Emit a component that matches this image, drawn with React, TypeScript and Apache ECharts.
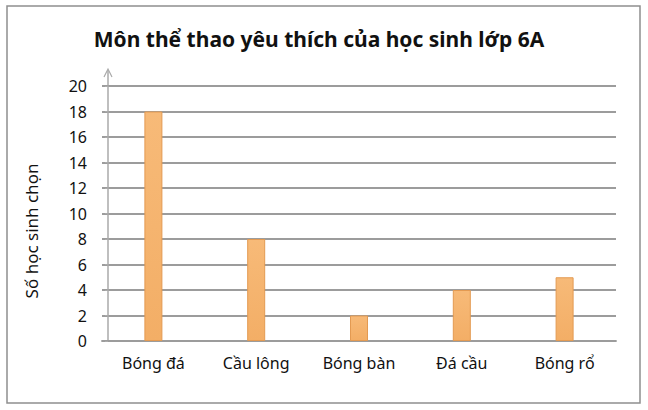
import * as echarts from 'echarts'
import { useEffect, useRef } from 'react'

const categories = ['Bóng đá', 'Cầu lông', 'Bóng bàn', 'Đá cầu', 'Bóng rổ']
const counts = [18, 8, 2, 4, 5]
const yMin = 0
const yMax = 20
const yStep = 2

const title = 'Môn thể thao yêu thích của học sinh lớp 6A'
const yName = 'Số học sinh chọn'

const GRID_LEFT = 102
const GRID_RIGHT = 32
const GRID_TOP = 86
const GRID_BOTTOM = 69
const AXIS_X = 108

export default function App() {
  const chartRef = useRef<HTMLDivElement>(null)

  useEffect(() => {
    if (!chartRef.current) return
    const chart = echarts.init(chartRef.current, undefined, { renderer: 'svg' })

    const option = {
      animation: false,
      backgroundColor: '#fff',
      textStyle: { fontFamily: 'Noto Sans' },
      title: {
        text: title,
        left: 314,
        top: 23,
        textAlign: 'center',
        textStyle: { fontSize: 21, fontWeight: 'bold', color: '#111', fontFamily: 'Noto Sans' }
      },
      grid: { left: GRID_LEFT, right: GRID_RIGHT, top: GRID_TOP, bottom: GRID_BOTTOM },
      xAxis: {
        type: 'category',
        data: categories,
        axisLine: { show: true, lineStyle: { color: '#9c9c9c', width: 1.8 } },
        axisTick: { show: false },
        axisLabel: { fontSize: 16, color: '#111', margin: 14 }
      },
      yAxis: {
        type: 'value',
        min: yMin,
        max: yMax,
        interval: yStep,
        offset: GRID_LEFT - AXIS_X,
        axisLine: { show: true, lineStyle: { color: '#aaaaaa', width: 1.5 } },
        axisTick: { show: true, length: 3, lineStyle: { color: '#aaaaaa' } },
        axisLabel: { fontSize: 16, color: '#111', margin: 21 },
        splitLine: { lineStyle: { color: '#9c9c9c', width: 1.8 } }
      },
      series: [
        {
          type: 'bar',
          data: counts,
          barWidth: 18,
          itemStyle: {
            color: new echarts.graphic.LinearGradient(0, 0, 0, 1, [
              { offset: 0, color: '#F7BA78' },
              { offset: 1, color: '#F3AE66' }
            ]),
            borderColor: '#E39A52',
            borderWidth: 1
          }
        }
      ],
      graphic: [
        {
          type: 'rect',
          shape: { x: 7, y: 6, width: 633, height: 397 },
          style: { fill: 'none', stroke: '#8f8f8f', lineWidth: 1.5 },
          silent: true
        },
        {
          type: 'text',
          x: 31,
          y: 231,
          rotation: Math.PI / 2,
          style: {
            text: yName,
            fontSize: 17,
            fontFamily: 'Noto Sans',
            fill: '#111',
            align: 'center',
            verticalAlign: 'middle'
          }
        },
        {
          type: 'line',
          shape: { x1: AXIS_X, y1: GRID_TOP, x2: AXIS_X, y2: 70 },
          style: { stroke: '#aaaaaa', lineWidth: 1.5 }
        },
        {
          type: 'polyline',
          shape: { points: [[AXIS_X - 4, 77], [AXIS_X, 69], [AXIS_X + 4, 77]] },
          style: { stroke: '#aaaaaa', lineWidth: 1.2, fill: 'none' }
        }
      ]
    }

    chart.setOption(option)
    return () => chart.dispose()
  }, [])

  return (
    <div
      ref={chartRef}
      style={{ position: 'fixed', left: 0, top: 0, width: '648px', height: '410px' }}
    />
  )
}
